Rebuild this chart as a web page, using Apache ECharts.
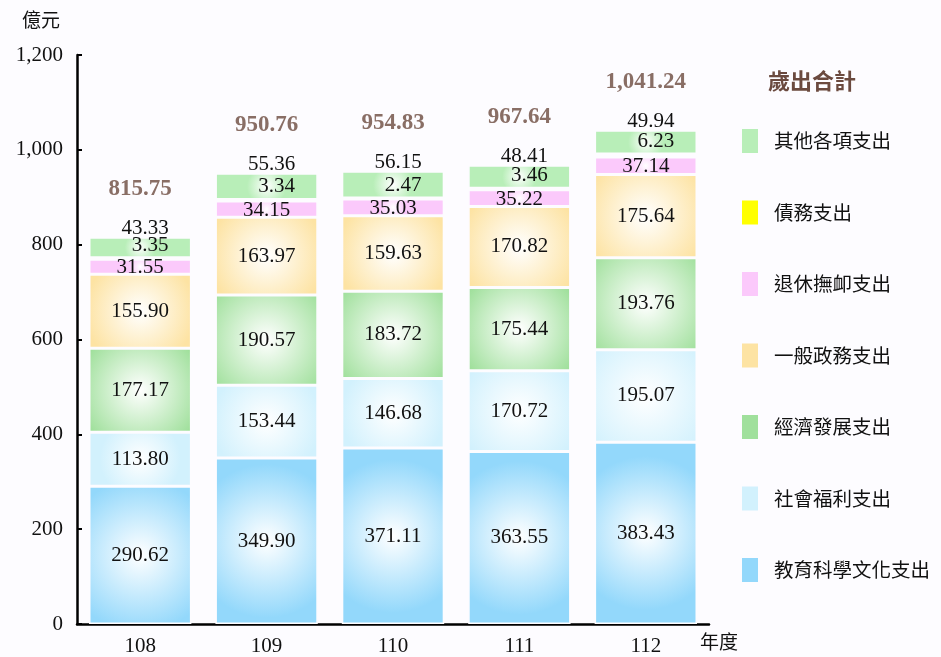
<!DOCTYPE html>
<html><head><meta charset="utf-8">
<script src="https://cdn.jsdelivr.net/npm/echarts@6/dist/echarts.min.js"></script>
<style>html,body{margin:0;padding:0;background:#fdfcff}#c{width:941px;height:657px}</style>
</head><body><div id="c"></div>
<script>
const categories = ['108','109','110','111','112'];
const seriesNames = ['教育科學文化支出','社會福利支出','經濟發展支出','一般政務支出','退休撫卹支出','債務支出','其他各項支出'];
const edu = [290.62,349.90,371.11,363.55,383.43];
const social = [113.80,153.44,146.68,170.72,195.07];
const econ = [177.17,190.57,183.72,175.44,193.76];
const general = [155.90,163.97,159.63,170.82,175.64];
const pension = [31.55,34.15,35.03,35.22,37.14];
const debt = [3.35,3.34,2.47,3.46,6.23];
const other = [43.33,55.36,56.15,48.41,49.94];
const totals = [815.75,950.76,954.83,967.64,1041.24];
const yTicks = [0,200,400,600,800,1000,1200];

const values = [edu, social, econ, general, pension, debt, other];
const colors = ['#93d8fb','#d2f1fd','#a0e09c','#fde3a3','#fbc9fb','#ffff00','#b8eeb8'];
const FONT = "'Liberation Serif','Noto Sans CJK TC',serif";
const CJK = "'Noto Sans CJK TC',sans-serif";
const fmt = v => Number(v).toLocaleString('en-US',{minimumFractionDigits:2, maximumFractionDigits:2});

function grad(c){
  return {type:'radial', x:0.5, y:0.5, r:0.75, colorStops:[{offset:0,color:'#ffffff'},{offset:1,color:c}]};
}

const series = values.map((arr,i)=>{
  const s = {
    name: seriesNames[i], type:'bar', stack:'total', barWidth:'81%',
    data: arr,
    itemStyle:{color: i===5 ? colors[i] : grad(colors[i]), borderColor:'#fdfcff', borderWidth:1.5},
    label:{show:true, position:'inside', color:'#111', fontFamily:FONT, fontSize:21, formatter:p=>fmt(p.value)},
    emphasis:{disabled:true}
  };
  if(i===5){ s.label.position='top'; s.label.distance=2; s.label.offset=[10,0]; }
  if(i===6){ s.label.position='top'; s.label.distance=-2; s.label.offset=[5,0]; }
  if(i===4){ s.label.offset=[0,1]; }
  return s;
});
series.push({
  name:'歲出合計', type:'scatter', data: totals, symbol:'circle', symbolSize:1,
  itemStyle:{color:'rgba(0,0,0,0)'}, silent:true, z:10,
  label:{show:true, position:'top', distance:36, color:'#6b4a3f', fontWeight:'bold', fontFamily:FONT, fontSize:23, formatter:p=>fmt(p.value)}
});

const chart = echarts.init(document.getElementById('c'));
chart.setOption({
  backgroundColor:'#fdfcff',
  animation:false,
  grid:{left:77, right:232, top:55, bottom:30},
  xAxis:{type:'category', data:categories,
    axisLine:{lineStyle:{color:'#000', width:2.5}}, axisTick:{show:false},
    axisLabel:{color:'#111', fontFamily:FONT, fontSize:21, margin:12}},
  yAxis:{type:'value', min:0, max:1200, interval:200,
    axisLine:{show:true, lineStyle:{color:'#000', width:2.5}},
    axisTick:{show:true, inside:true, length:5, lineStyle:{color:'#000', width:2}},
    splitLine:{show:false},
    axisLabel:{color:'#111', fontFamily:FONT, fontSize:21, margin:14,
      formatter:v=> yTicks.includes(v) ? v.toLocaleString('en-US') : ''}},
  legend:{orient:'vertical', left:735, top:122, itemWidth:18, itemHeight:26, itemGap:43.5,
    icon:'rect',
    textStyle:{color:'#111', fontSize:19.5, fontFamily:CJK, padding:[0,0,0,10]},
    selectedMode:false,
    data: seriesNames.slice().reverse().map(n=>({name:n, itemStyle:{color:colors[seriesNames.indexOf(n)]}}))},
  graphic:[
    {type:'text', left:22, top:10, style:{text:'億元', fontSize:19, fill:'#111', fontFamily:CJK}},
    {type:'text', left:700, top:632, style:{text:'年度', fontSize:19, fill:'#111', fontFamily:CJK}},
    {type:'text', left:768, top:70, style:{text:'歲出合計', fontSize:22, fontWeight:'bold', fill:'#6b4a3f', fontFamily:CJK}}
  ],
  series: series
});
</script></body></html>
